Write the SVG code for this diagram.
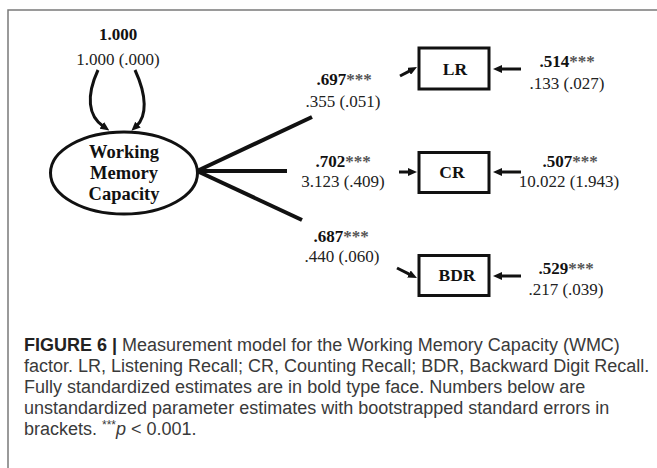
<svg xmlns="http://www.w3.org/2000/svg" width="657" height="468" viewBox="0 0 657 468">
<style>
.frame{stroke:#7a7a7a;stroke-width:1.5;fill:none}
.node{fill:#fff;stroke:#111;stroke-width:3}
.nlab{font-family:"Liberation Serif","Times New Roman",serif;font-weight:bold;font-size:18.5px;fill:#111;text-anchor:middle}
.blab{font-family:"Liberation Serif","Times New Roman",serif;font-weight:bold;font-size:17.5px;fill:#111;text-anchor:middle}
.est{font-family:"Liberation Serif","Times New Roman",serif;font-size:17px;fill:#222;text-anchor:middle}
.std{font-weight:bold;fill:#111}
.ast{font-weight:bold;fill:#555}
.load{stroke:#111;stroke-width:4;fill:none}
.arr{stroke:#111;stroke-width:3;fill:none;marker-end:url(#ah)}
.cap{font-family:"Liberation Sans",Arial,sans-serif;font-size:18px;fill:#3a3a3a}
</style>
<defs>
<marker id="ah" viewBox="0 0 9 8" refX="2" refY="4" markerWidth="9" markerHeight="8" markerUnits="userSpaceOnUse" orient="auto">
<path d="M0,0 L9,4 L0,8 z" fill="#111"/>
</marker>
</defs>
<path class="frame" d="M657,10 L8,10 L8,468"/>
<g id="connectors">
<path class="arr" d="M98,70 C86,96 88,116 103.5,126.5"/>
<path class="arr" d="M135,70 C147,96 147,116 136.5,126"/>
<line class="load" x1="197" y1="171" x2="312" y2="117"/>
<line class="load" x1="197" y1="171" x2="287" y2="171"/>
<line class="load" x1="197" y1="171" x2="302" y2="220"/>
<line class="arr" x1="400" y1="76" x2="410.8" y2="70.3"/>
<line class="arr" x1="399" y1="172" x2="410" y2="172"/>
<line class="arr" x1="397" y1="268" x2="410.7" y2="274.9"/>
<line class="arr" x1="521" y1="69" x2="500" y2="69"/>
<line class="arr" x1="521" y1="172" x2="500" y2="172"/>
<line class="arr" x1="521" y1="276" x2="500" y2="276"/>
</g>
<g id="wmc">
<ellipse class="node" cx="124" cy="173" rx="73.5" ry="41"/>
<text class="nlab" x="124" y="158">Working</text>
<text class="nlab" x="124" y="179">Memory</text>
<text class="nlab" x="124" y="200">Capacity</text>
</g>
<g id="lr">
<rect class="node" x="419" y="48" width="70" height="41"/>
<text class="blab" x="455" y="75">LR</text>
</g>
<g id="cr">
<rect class="node" x="419" y="152.5" width="70" height="40"/>
<text class="blab" x="452" y="178">CR</text>
</g>
<g id="bdr">
<rect class="node" x="419" y="255.5" width="70" height="40"/>
<text class="blab" x="457" y="281">BDR</text>
</g>
<g id="labels">
<text class="est" x="118" y="40"><tspan class="std">1.000</tspan></text>
<text class="est" x="118" y="65">1.000 (.000)</text>
<text class="est" x="344" y="85"><tspan class="std">.697</tspan><tspan class="ast">***</tspan></text>
<text class="est" x="343" y="107">.355 (.051)</text>
<text class="est" x="343" y="167"><tspan class="std">.702</tspan><tspan class="ast">***</tspan></text>
<text class="est" x="343" y="187">3.123 (.409)</text>
<text class="est" x="341" y="242"><tspan class="std">.687</tspan><tspan class="ast">***</tspan></text>
<text class="est" x="342" y="262">.440 (.060)</text>
<text class="est" x="567" y="67"><tspan class="std">.514</tspan><tspan class="ast">***</tspan></text>
<text class="est" x="567" y="89">.133 (.027)</text>
<text class="est" x="570" y="167"><tspan class="std">.507</tspan><tspan class="ast">***</tspan></text>
<text class="est" x="569" y="187">10.022 (1.943)</text>
<text class="est" x="566" y="274"><tspan class="std">.529</tspan><tspan class="ast">***</tspan></text>
<text class="est" x="566" y="295">.217 (.039)</text>
</g>
<g id="caption">
<text class="cap" x="24" y="351"><tspan font-weight="bold" fill="#222">FIGURE 6 |</tspan> Measurement model for the Working Memory Capacity (WMC)</text>
<text class="cap" x="24" y="372">factor. LR, Listening Recall; CR, Counting Recall; BDR, Backward Digit Recall.</text>
<text class="cap" x="24" y="393">Fully standardized estimates are in bold type face. Numbers below are</text>
<text class="cap" x="24" y="414">unstandardized parameter estimates with bootstrapped standard errors in</text>
<text class="cap" x="24" y="435">brackets. <tspan font-size="12px" dy="-6">***</tspan><tspan font-style="italic" dy="6">p</tspan> &lt; 0.001.</text>
</g>
</svg>
